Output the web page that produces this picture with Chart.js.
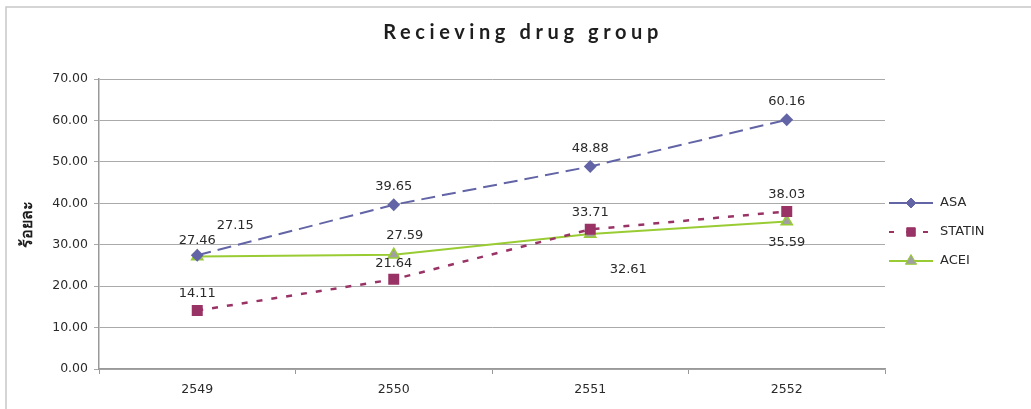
<!DOCTYPE html>
<html>
<head>
<meta charset="utf-8">
<script src="https://cdn.jsdelivr.net/npm/chart.js@4"></script>
<style>
  html, body { margin: 0; padding: 0; background: #fff; }
  #wrap { width: 1031px; height: 409px; position: relative; }
</style>
</head>
<body>
<div id="wrap"><canvas id="chart" width="1031" height="409"></canvas></div>
<script>
const years = ["2549", "2550", "2551", "2552"];
const asa = [27.46, 39.65, 48.88, 60.16];
const statin = [14.11, 21.64, 33.71, 38.03];
const acei = [27.15, 27.59, 32.61, 35.59];
const yTicks = [0, 10, 20, 30, 40, 50, 60, 70];

// where each value label sits, relative to its point (dx, dy)
const labelOffsets = [
  [[0, -15], [0, -18], [0, -18], [0, -18]],
  [[0, -17], [0, -16], [0, -17], [0, -17]],
  [[38, -31], [11, -19], [38, 36], [0, 21]]
];

const txt = "#2a2a2a";
const font = "'DejaVu Sans', Verdana, sans-serif";

const decor = {
  id: "decor",
  beforeDraw(chart) {
    const ctx = chart.ctx;
    ctx.save();
    ctx.strokeStyle = "#c8c8c8";
    ctx.lineWidth = 1.5;
    ctx.beginPath();
    ctx.moveTo(6, 409);
    ctx.lineTo(6, 7);
    ctx.lineTo(1031, 7);
    ctx.stroke();
    ctx.restore();
  },
  afterDraw(chart) {
    const ctx = chart.ctx;
    ctx.save();
    // title
    ctx.fillStyle = "#1e1e1e";
    ctx.font = "bold 20px Lato, sans-serif";
    ctx.letterSpacing = "4.6px";
    ctx.textAlign = "center";
    ctx.textBaseline = "middle";
    ctx.fillText("Recieving drug group", 523, 33);
    ctx.letterSpacing = "0px";

    // value labels
    ctx.font = "13px " + font;
    ctx.fillStyle = txt;
    chart.data.datasets.forEach((ds, i) => {
      const meta = chart.getDatasetMeta(i);
      meta.data.forEach((pt, j) => {
        const off = labelOffsets[i][j];
        ctx.fillText(ds.data[j].toFixed(2), pt.x + off[0], pt.y + off[1]);
      });
    });

    // legend: line + marker + name
    const rows = [203, 232, 261];
    chart.data.datasets.forEach((ds, i) => {
      const y = rows[i];
      ctx.save();
      ctx.strokeStyle = ds.borderColor;
      ctx.lineWidth = 2;
      ctx.setLineDash(i === 1 ? [5, 12] : []);
      ctx.beginPath();
      ctx.moveTo(889, y);
      ctx.lineTo(933, y);
      ctx.stroke();
      ctx.restore();
      ctx.save();
      ctx.fillStyle = ds.pointBackgroundColor;
      ctx.strokeStyle = ds.pointBorderColor;
      ctx.lineWidth = 1;
      Chart.helpers.drawPoint(ctx, {
        pointStyle: ds.pointStyle,
        radius: ds.pointRadius,
        borderWidth: 1
      }, 911, y);
      ctx.restore();
      ctx.fillStyle = txt;
      ctx.textAlign = "left";
      ctx.font = "13px " + font;
      ctx.fillText(ds.label, 940, y);
    });
    ctx.restore();
  }
};

new Chart(document.getElementById("chart").getContext("2d"), {
  type: "line",
  data: {
    labels: years,
    datasets: [
      {
        label: "ASA",
        data: asa,
        borderColor: "#6264a6",
        borderWidth: 2,
        borderDash: [14, 7],
        pointStyle: "rectRot",
        pointRadius: 5,
        pointBackgroundColor: "#6264a6",
        pointBorderColor: "#6264a6",
        tension: 0
      },
      {
        label: "STATIN",
        data: statin,
        borderColor: "#993366",
        borderWidth: 2.5,
        borderDash: [6, 9],
        pointStyle: "rect",
        pointRadius: 6,
        pointBackgroundColor: "#993366",
        pointBorderColor: "#993366",
        tension: 0
      },
      {
        label: "ACEI",
        data: acei,
        borderColor: "#99cc33",
        borderWidth: 2,
        pointStyle: "triangle",
        pointRadius: 6.5,
        pointBackgroundColor: "#a0a0a0",
        pointBorderColor: "#99cc33",
        pointBorderWidth: 1.5,
        tension: 0
      }
    ]
  },
  options: {
    responsive: false,
    animation: false,
    layout: { padding: { top: 79, right: 146, bottom: 0, left: 18 } },
    plugins: {
      legend: { display: false },
      title: { display: false },
      tooltip: { enabled: false }
    },
    scales: {
      x: {
        offset: true,
        grid: {
          offset: true,
          drawOnChartArea: false,
          drawTicks: true,
          tickLength: 5,
          color: "#999"
        },
        border: { color: "#999", width: 1.5 },
        ticks: { color: txt, font: { family: font, size: 12.5 }, padding: 8 },
        afterFit(scale) { scale.height = 40; }
      },
      y: {
        min: 0,
        max: 70,
        afterBuildTicks(scale) { scale.ticks = yTicks.map(v => ({ value: v })); },
        grid: { color: "#aaaaaa", tickLength: 5, lineWidth: 1 },
        border: { color: "#999", width: 1.5 },
        ticks: {
          color: txt,
          font: { family: font, size: 12.5 },
          padding: 6,
          callback: v => v.toFixed(2)
        },
        title: {
          display: true,
          text: "ร้อยละ",
          color: "#1e1e1e",
          font: { family: "'Noto Sans', sans-serif", size: 16, weight: "bold" },
          padding: { top: 0, bottom: 2 }
        },
        afterFit(scale) { scale.width = 81; }
      }
    }
  },
  plugins: [decor]
});
</script>
</body>
</html>
